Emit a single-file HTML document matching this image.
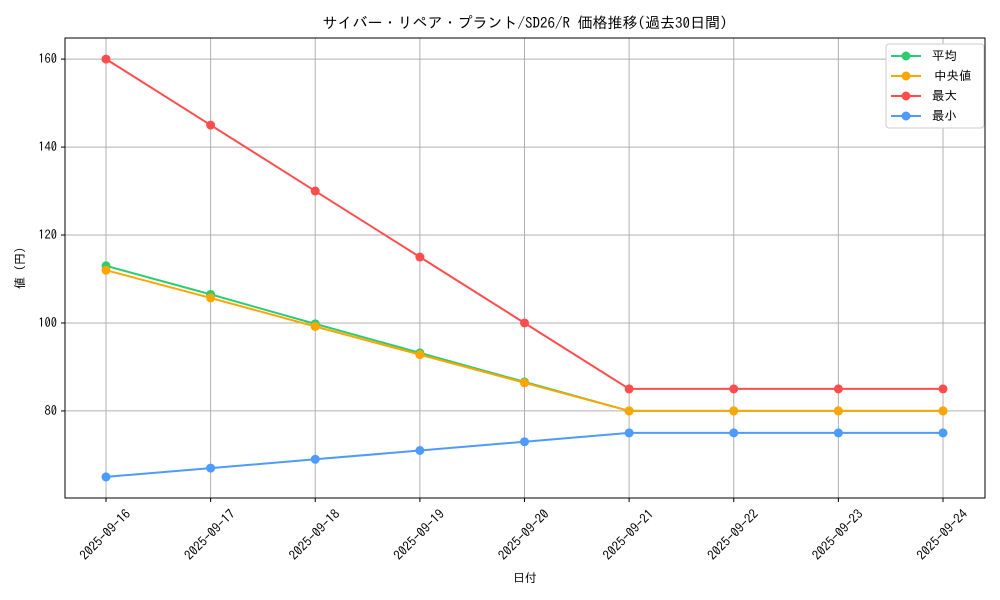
<!DOCTYPE html>
<html><head><meta charset="utf-8"><style>
body{margin:0;background:#fff;}
svg{display:block;font-family:"IPAGothic","Noto Sans CJK JP",sans-serif;}
</style></head><body>
<svg id="chart" width="1000" height="600">
<text x="525" y="28" text-anchor="middle" font-size="15">サイバー・リペア・プラント/SD26/R 価格推移(過去30日間)</text>
<g id="grid"></g><g id="axes"></g><g id="series"></g>
<text x="525" y="582" text-anchor="middle" font-size="12">日付</text>
<text transform="translate(24,268) rotate(-90)" text-anchor="middle" font-size="12">値 (円)</text>
<g>
<rect x="886" y="44" width="98" height="84" rx="3" fill="#fff" stroke="#ccc"/>
<g id="legend"></g>
</g>
</svg>
<script>
const dates=["2025-09-16","2025-09-17","2025-09-18","2025-09-19","2025-09-20","2025-09-21","2025-09-22","2025-09-23","2025-09-24"];
const avgVals=[113,106.5,99.8,93.2,86.6,80,80,80,80];
const medVals=[112,105.7,99.2,92.8,86.4,80,80,80,80];
const maxVals=[160,145,130,115,100,85,85,85,85];
const minVals=[65,67,69,71,73,75,75,75,75];
const yTicks=[80,100,120,140,160];
const seriesNames=["平均","中央値","最大","最小"];
const L=65,R=985,T=38,B=498,yMin=60.2,yMax=164.8;
const xs=i=>106+i*(943-106)/(dates.length-1);
const ys=v=>B-(v-yMin)/(yMax-yMin)*(B-T);
const NS="http://www.w3.org/2000/svg";
function mk(tag,attrs,parent){const e=document.createElementNS(NS,tag);for(const k in attrs)e.setAttribute(k,attrs[k]);parent.appendChild(e);return e;}
const grid=document.getElementById('grid'),axes=document.getElementById('axes'),ser=document.getElementById('series'),leg=document.getElementById('legend');
dates.forEach((d,i)=>{
 const g=mk('line',{x1:xs(i),x2:xs(i),y1:T,y2:B,stroke:'#b0b0b0','stroke-width':1},grid);
 
 
 mk('line',{x1:xs(i),x2:xs(i),y1:B,y2:B+4,stroke:'#000'},axes);
 const cx=xs(i)-0.5,cy=B+41;
 const t=mk('text',{x:cx,y:cy,'font-size':13,'text-anchor':'middle',transform:`rotate(-45 ${cx} ${cy-4})`},axes);
 t.textContent=d;
 
 
});
yTicks.forEach(v=>{
 const g=mk('line',{x1:L,x2:R,y1:ys(v),y2:ys(v),stroke:'#b0b0b0','stroke-width':1},grid);
 
 
 mk('line',{x1:L-4,x2:L,y1:ys(v),y2:ys(v),stroke:'#000'},axes);
 const t=mk('text',{x:L-8,y:ys(v)+4,'font-size':12.5,'text-anchor':'end'},axes);
 t.textContent=v;
 
 
});
const fr=mk('rect',{x:L,y:T,width:R-L,height:B-T,fill:'none',stroke:'#000'},axes);


const S=[[avgVals,'#2ecc71','avg'],[medVals,'#ffa500','median'],[maxVals,'#ff4d4d','max'],[minVals,'#4d9bff','min']];
S.forEach(([vals,c,n],k)=>{
 const g=mk('g',{},ser);
 
 
 const pl=mk('polyline',{points:vals.map((v,i)=>xs(i)+','+ys(v)).join(' '),fill:'none',stroke:c,'stroke-width':2},g);
 
 
 vals.forEach((v,i)=>{
  const p=mk('circle',{cx:xs(i),cy:ys(v),r:4.5,fill:c},g);
  
  
 });
 const ly=56+k*20;
 const lg=mk('g',{},leg);
 
 
 mk('line',{x1:891,x2:921,y1:ly,y2:ly,stroke:c,'stroke-width':2},lg);
 mk('circle',{cx:906,cy:ly,r:4.5,fill:c},lg);
 const t=mk('text',{x:k==1?934:932,y:ly+4,'font-size':12.5},lg);
 t.textContent=seriesNames[k];
});
</script>
</body></html>
